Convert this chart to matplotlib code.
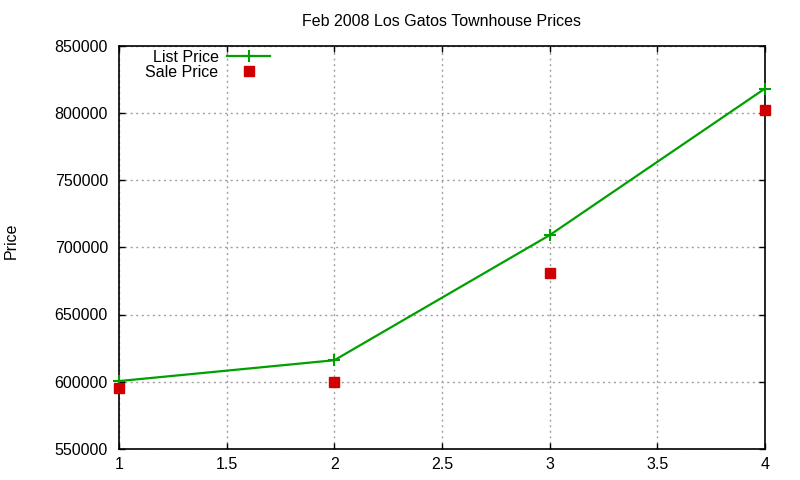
import matplotlib
matplotlib.use("Agg")
import matplotlib.pyplot as plt

x_vals = [1, 2, 3, 4]
list_price = [600500, 616000, 709000, 818000]
sale_price = [595500, 600000, 680500, 802000]
x_ticks = [1, 1.5, 2, 2.5, 3, 3.5, 4]
x_tick_labels = ["1", "1.5", "2", "2.5", "3", "3.5", "4"]
y_ticks = [550000, 600000, 650000, 700000, 750000, 800000, 850000]
title = "Feb 2008 Los Gatos Townhouse Prices"

plt.rcParams['font.family'] = ['Liberation Sans', 'DejaVu Sans']
fs = 11.5

fig = plt.figure(figsize=(8, 4.8), dpi=100)
ax = fig.add_axes([119/800, 1 - 449/480, (765-119)/800, (449-45.5)/480])

ax.plot(x_vals, list_price, color='#00a000', lw=1.6, marker='+', ms=9, mew=1.5,
        label='List Price', zorder=3, clip_on=False)
ax.plot(x_vals, sale_price, color='#d00000', lw=0, marker='s', ms=6.5,
        label='Sale Price', zorder=4, clip_on=False)

ax.set_xlim(1, 4)
ax.set_ylim(550000, 850000)
ax.set_xticks(x_ticks)
ax.set_xticklabels(x_tick_labels)
ax.set_yticks(y_ticks)
ax.set_yticklabels([str(v) for v in y_ticks])
ax.tick_params(direction='in', length=4, width=1, top=True, right=True,
               labelsize=fs, pad=8)
ax.tick_params(axis='x', pad=6)
ax.grid(True, color='#a0a0a0', linestyle=(0, (1.5, 2.5)), lw=1)
for s in ax.spines.values():
    s.set_linewidth(1.2)

ax.set_title(title, fontsize=fs, pad=14)
ax.set_ylabel('Price', fontsize=fs)
ax.yaxis.set_label_coords(-0.1556, 0.515)

leg = ax.legend(loc='upper left', frameon=False, markerfirst=False,
                fontsize=fs, handlelength=2.7, handletextpad=0.55,
                labelspacing=0.0, borderaxespad=0.0,
                bbox_to_anchor=(0.031, 1.005))

fig.savefig('out.png', dpi=100)
